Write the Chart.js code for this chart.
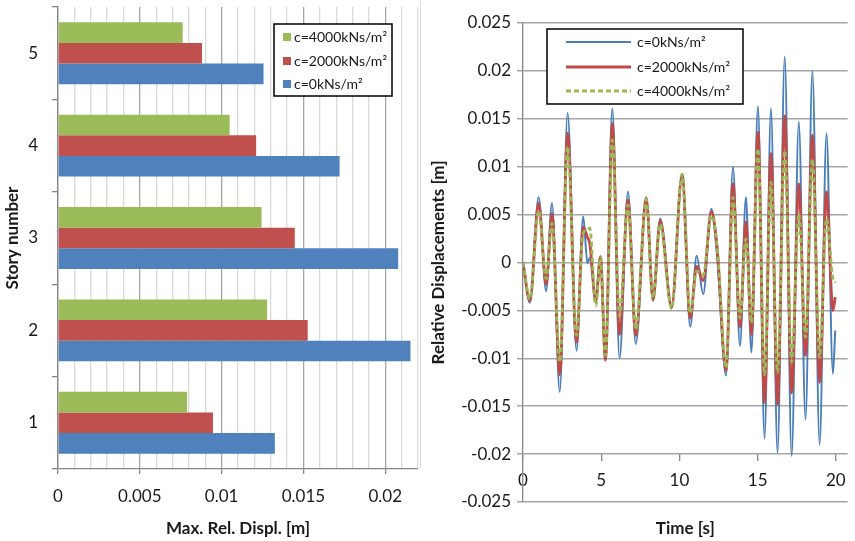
<!DOCTYPE html>
<html>
<head>
<meta charset="utf-8">
<script src="https://cdn.jsdelivr.net/npm/chart.js@4.4.1/dist/chart.umd.min.js"></script>
<style>
    html, body { margin: 0; padding: 0; background: #fff; overflow: hidden; }
    #wrap { position: relative; width: 855px; height: 541px; }
    #left { position: absolute; left: 0; top: 0; width: 420px; height: 541px; }
    #right { position: absolute; left: 420px; top: 0; width: 435px; height: 541px; }
    #sep { position: absolute; left: 420px; top: 0; width: 1px; height: 468px; background: #d9d9d9; }
</style>
</head>
<body>
<div id="wrap">
    <div id="left"><canvas id="barChart"></canvas></div>
    <div id="sep"></div>
    <div id="right"><canvas id="lineChart"></canvas></div>
</div>
<script>
// ── Data ──
const stories = ['5', '4', '3', '2', '1'];
const seriesLabels = ['c=0kNs/m²', 'c=2000kNs/m²', 'c=4000kNs/m²'];

// max relative displacement per story [m], stories 5..1
const maxDispl0 = [0.01256, 0.01721, 0.02079, 0.02154, 0.01325];
const maxDispl2000 = [0.0088, 0.01211, 0.01447, 0.01526, 0.00947];
const maxDispl4000 = [0.00762, 0.01049, 0.01244, 0.01278, 0.00789];

// time history of the relative displacement: turning points [s] / [m]
const timeS = [0, 0.44, 1.0, 1.48, 1.85, 2.35, 2.85, 3.42, 3.85, 4.12, 4.27, 4.65, 4.95, 5.27, 5.71,
    6.17, 6.71, 7.21, 7.88, 8.31, 8.77, 9.5, 10.17, 10.69, 11.1, 11.52, 12.04, 12.4, 12.98, 13.42,
    13.87, 14.25, 14.6, 15.02, 15.44, 15.85, 16.27, 16.73, 17.17, 17.63, 18.06, 18.5, 18.96, 19.4,
    19.81, 19.96];
const disp0 = [0, -0.0042, 0.0068, -0.0030, 0.0062, -0.0135, 0.0156, -0.0092, 0.0048, -0.0001, 0.0005,
    -0.0037, 0.0006, -0.0101, 0.0161, -0.0100, 0.0074, -0.0085, 0.0068, -0.0040, 0.0046, -0.0047,
    0.0092, -0.0067, 0.0007, -0.0033, 0.0056, 0.0008, -0.0118, 0.0100, -0.0087, 0.0068, -0.0094,
    0.0163, -0.0184, 0.0161, -0.0199, 0.0215, -0.0202, 0.0147, -0.0164, 0.0200, -0.0190, 0.0135,
    -0.0116, -0.0071];
const disp2000 = [0, -0.0040, 0.0062, -0.0023, 0.0051, -0.0117, 0.0135, -0.0083, 0.0037, 0.0026, 0.0020,
    -0.0041, 0.0006, -0.0102, 0.0145, -0.0075, 0.0065, -0.0076, 0.0067, -0.0039, 0.0044, -0.0047,
    0.0092, -0.0058, -0.0004, -0.0019, 0.0053, 0.0017, -0.0113, 0.0082, -0.0067, 0.0042, -0.0075,
    0.0136, -0.0146, 0.0114, -0.0148, 0.0153, -0.0136, 0.0082, -0.0097, 0.0133, -0.0125, 0.0074,
    -0.0050, -0.0036];
const disp4000 = [0, -0.0038, 0.0054, -0.0017, 0.0041, -0.0104, 0.0121, -0.0076, 0.0031, 0.0034, 0.0036,
    -0.0045, 0.0005, -0.0097, 0.0128, -0.0056, 0.0060, -0.0070, 0.0066, -0.0037, 0.0040, -0.0048,
    0.0092, -0.0053, -0.0009, -0.0013, 0.0049, 0.0019, -0.0110, 0.0068, -0.0058, 0.0025, -0.0063,
    0.0119, -0.0117, 0.0084, -0.0115, 0.0117, -0.0104, 0.0051, -0.0078, 0.0108, -0.0099, 0.0046,
    -0.0017, -0.0021];

const BLUE = '#4f81bd', RED = '#c0504d', GREEN = '#9bbb59';
const FONT = 'Lato, "Open Sans", sans-serif';
Chart.defaults.font.family = FONT;
Chart.defaults.color = '#1a1a1a';

const fmtNum = v => String(Number(v.toFixed(3)));
const isMajor = v => Math.round(v * 1000) % 5 === 0;
const toXY = vals => timeS.map((t, i) => ({ x: t, y: vals[i] }));

// Framed legend drawn inside the plot (Excel style).
const boxLegend = {
    id: 'boxLegend',
    afterDraw(chart, args, o) {
        const ctx = chart.ctx;
        ctx.save();
        ctx.fillStyle = '#fff';
        ctx.fillRect(o.x, o.y, o.w, o.h);
        ctx.strokeStyle = '#000';
        ctx.lineWidth = 1.5;
        ctx.strokeRect(o.x, o.y, o.w, o.h);
        ctx.font = `${o.fontSize}px ${FONT}`;
        ctx.textBaseline = 'middle';
        chart.data.datasets.forEach((ds, i) => {
            const cy = o.rows[i];
            if (o.kind === 'box') {
                ctx.fillStyle = ds.backgroundColor;
                ctx.fillRect(o.markX, cy - 4, 8, 8);
            } else {
                ctx.strokeStyle = ds.borderColor;
                ctx.lineWidth = ds.borderWidth;
                ctx.setLineDash(ds.borderDash || []);
                ctx.beginPath();
                ctx.moveTo(o.markX, cy);
                ctx.lineTo(o.markX + o.markW, cy);
                ctx.stroke();
                ctx.setLineDash([]);
            }
            ctx.fillStyle = '#1a1a1a';
            ctx.fillText(ds.label, o.textX, cy);
        });
        ctx.restore();
    }
};

// ── Left: max relative displacement per story ──
new Chart(document.getElementById('barChart'), {
    type: 'bar',
    plugins: [boxLegend],
    data: {
        labels: stories,
        datasets: [
            { label: seriesLabels[2], data: maxDispl4000, backgroundColor: GREEN },
            { label: seriesLabels[1], data: maxDispl2000, backgroundColor: RED },
            { label: seriesLabels[0], data: maxDispl0, backgroundColor: BLUE }
        ]
    },
    options: {
        indexAxis: 'y',
        responsive: true, maintainAspectRatio: false, animation: false,
        categoryPercentage: 0.67, barPercentage: 1,
        layout: { padding: { top: 7, right: 2, left: 0, bottom: 0 } },
        plugins: {
            legend: { display: false }, tooltip: { enabled: false },
            boxLegend: { kind: 'box', x: 274, y: 24, w: 118, h: 72, rows: [37, 61, 84], markX: 283, textX: 294, fontSize: 14 }
        },
        scales: {
            x: {
                min: 0, max: 0.022,
                ticks: {
                    stepSize: 0.001, autoSkip: false, maxRotation: 0, padding: 12,
                    font: { size: 17 },
                    callback: v => isMajor(v) ? fmtNum(v) : ''
                },
                grid: {
                    color: c => isMajor(c.tick.value) ? '#a6a6a6' : '#d9d9d9',
                    tickColor: c => isMajor(c.tick.value) ? '#868686' : 'rgba(0,0,0,0)',
                    lineWidth: 1.3, tickLength: 5
                },
                border: { color: '#868686', width: 1.3 },
                title: { display: true, text: 'Max. Rel. Displ. [m]', font: { size: 17, weight: 'bold' }, padding: { top: 4, bottom: 2 } },
                afterFit: s => { s.height = 72; s.paddingLeft = 0; s.paddingRight = 0; }
            },
            y: {
                ticks: { font: { size: 17 }, padding: 14 },
                grid: { drawOnChartArea: false, color: '#868686', tickLength: 6, lineWidth: 1.3 },
                border: { color: '#868686', width: 1.3 },
                title: { display: true, text: 'Story number', font: { size: 17, weight: 'bold' }, padding: { top: 2, bottom: 2 } },
                afterFit: s => { s.width = 58; s.paddingTop = 0; s.paddingBottom = 0; }
            }
        }
    }
});

// ── Right: time history of relative displacement ──
new Chart(document.getElementById('lineChart'), {
    type: 'line',
    plugins: [boxLegend],
    data: {
        datasets: [
            { label: seriesLabels[0], data: toXY(disp0), borderColor: '#4a7ebb', borderWidth: 2, order: 3 },
            { label: seriesLabels[1], data: toXY(disp2000), borderColor: '#be4b48', borderWidth: 2.8, order: 2 },
            { label: seriesLabels[2], data: toXY(disp4000), borderColor: '#98b954', borderWidth: 2.8, borderDash: [5, 3], order: 1 }
        ]
    },
    options: {
        responsive: true, maintainAspectRatio: false, animation: false,
        elements: { point: { radius: 0 }, line: { cubicInterpolationMode: 'monotone' } },
        layout: { padding: { top: 23, right: 0, left: 0, bottom: 0 } },
        plugins: {
            legend: { display: false }, tooltip: { enabled: false },
            boxLegend: { kind: 'line', x: 127, y: 29, w: 196, h: 75, rows: [42, 67, 91], markX: 146, markW: 65, textX: 217, fontSize: 14 }
        },
        scales: {
            x: {
                type: 'linear', position: { y: -0.02 }, min: 0, max: 20.75,
                ticks: { stepSize: 5, includeBounds: false, maxRotation: 0, padding: 9, font: { size: 17 } },
                grid: { drawOnChartArea: false, color: '#868686', tickLength: 7, lineWidth: 1.3 },
                border: { display: false }
            },
            x2: {
                type: 'linear', position: 'bottom', min: 0, max: 20.75,
                ticks: { display: false }, grid: { display: false }, border: { display: false },
                title: { display: true, text: 'Time [s]', font: { size: 17, weight: 'bold' }, padding: { top: 4, bottom: 2 } },
                afterFit: s => { s.height = 39; }
            },
            y: {
                min: -0.025, max: 0.025,
                ticks: { stepSize: 0.005, padding: 6, font: { size: 17 }, callback: v => fmtNum(v) },
                grid: { color: '#a6a6a6', lineWidth: 1.5, tickLength: 6 },
                border: { color: '#868686', width: 1.3 },
                title: { display: true, text: 'Relative Displacements [m]', font: { size: 17, weight: 'bold' }, padding: { top: 8, bottom: 2 } },
                afterFit: s => { s.width = 103; }
            }
        }
    }
});
</script>
</body>
</html>
